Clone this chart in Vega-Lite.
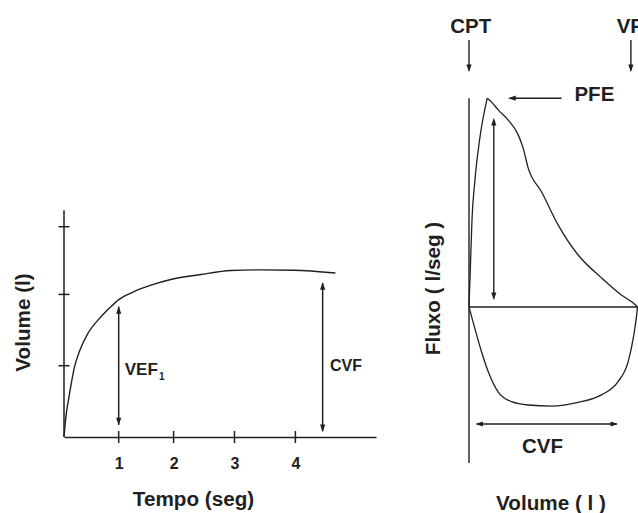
{
  "$schema": "https://vega.github.io/schema/vega-lite/v6.json",
  "background": "white",
  "padding": {"left": 12, "top": 5, "right": 0, "bottom": 0},
  "spacing": 46,
  "config": {
    "view": {"stroke": null},
    "font": "Liberation Sans",
    "axis": {"grid": false, "titleFont": "Liberation Sans", "labelFont": "Liberation Sans", "titleFontWeight": "bold", "labelFontWeight": "bold", "titleColor": "#231f20", "labelColor": "#231f20", "domainColor": "#231f20"}
  },
  "datasets": {
    "curve": [
      {"t": 0, "v": 0}, {"t": 0.04, "v": 0.33}, {"t": 0.075, "v": 0.51}, {"t": 0.125, "v": 0.75},
      {"t": 0.18, "v": 0.98}, {"t": 0.27, "v": 1.21}, {"t": 0.41, "v": 1.45}, {"t": 0.63, "v": 1.68},
      {"t": 0.8, "v": 1.82}, {"t": 0.95, "v": 1.93}, {"t": 1.18, "v": 2.03}, {"t": 1.5, "v": 2.13},
      {"t": 1.84, "v": 2.21}, {"t": 2.36, "v": 2.28}, {"t": 2.88, "v": 2.335}, {"t": 3.4, "v": 2.345},
      {"t": 3.96, "v": 2.34}, {"t": 4.68, "v": 2.3}
    ],
    "leftRules": [
      {"t": 0, "v": 0, "t2": 0, "v2": 3.18},
      {"t": 0.943, "v": 0.17, "t2": 0.943, "v2": 1.83},
      {"t": 4.46, "v": 0.08, "t2": 4.46, "v2": 2.16}
    ],
    "leftXTicks": [{"t": 0.943, "v": 0}, {"t": 1.89, "v": 0}, {"t": 2.94, "v": 0}, {"t": 3.99, "v": 0}],
    "leftYTicks": [{"t": 0, "v": 1}, {"t": 0, "v": 2}, {"t": 0, "v": 2.95}],
    "leftHeads": [
      {"t": 0.943, "v": 1.833, "dir": "up"}, {"t": 0.943, "v": 0.164, "dir": "down"},
      {"t": 4.46, "v": 2.17, "dir": "up"}, {"t": 4.46, "v": 0.07, "dir": "down"}
    ],
    "vefText": [{"t": 1.047, "v": 0.865, "label": "VEF"}],
    "vefSub": [{"t": 1.64, "v": 0.8, "label": "1"}],
    "cvfLeft": [{"t": 4.586, "v": 0.921, "label": "CVF"}],
    "loop": [
      {"seg": "rise", "vol": 0, "flow": 0}, {"seg": "rise", "vol": 0.04, "flow": 1.5},
      {"seg": "rise", "vol": 0.09, "flow": 3.4}, {"seg": "rise", "vol": 0.17, "flow": 4.8},
      {"seg": "rise", "vol": 0.31, "flow": 6.4}, {"seg": "rise", "vol": 0.54, "flow": 8.03},
      {"seg": "fall", "vol": 0.54, "flow": 8.03}, {"seg": "fall", "vol": 0.67, "flow": 7.88},
      {"seg": "fall", "vol": 0.864, "flow": 7.58}, {"seg": "fall", "vol": 1.16, "flow": 7.19},
      {"seg": "fall", "vol": 1.456, "flow": 6.62}, {"seg": "fall", "vol": 1.6, "flow": 6.12},
      {"seg": "fall", "vol": 1.75, "flow": 5.35}, {"seg": "fall", "vol": 2.145, "flow": 4.43},
      {"seg": "fall", "vol": 2.64, "flow": 3.15}, {"seg": "fall", "vol": 3.23, "flow": 2.0},
      {"seg": "fall", "vol": 3.92, "flow": 1.12}, {"seg": "fall", "vol": 4.51, "flow": 0.46},
      {"seg": "fall", "vol": 4.86, "flow": 0.15}, {"seg": "fall", "vol": 4.985, "flow": 0.01},
      {"seg": "insp", "vol": 0, "flow": 0}, {"seg": "insp", "vol": 0.17, "flow": -0.81},
      {"seg": "insp", "vol": 0.37, "flow": -1.72}, {"seg": "insp", "vol": 0.57, "flow": -2.49},
      {"seg": "insp", "vol": 0.86, "flow": -3.26}, {"seg": "insp", "vol": 1.26, "flow": -3.64},
      {"seg": "insp", "vol": 1.75, "flow": -3.77}, {"seg": "insp", "vol": 2.44, "flow": -3.81},
      {"seg": "insp", "vol": 3.23, "flow": -3.67}, {"seg": "insp", "vol": 3.92, "flow": -3.38},
      {"seg": "insp", "vol": 4.41, "flow": -2.87}, {"seg": "insp", "vol": 4.71, "flow": -2.1},
      {"seg": "insp", "vol": 4.86, "flow": -1.2}, {"seg": "insp", "vol": 4.96, "flow": -0.31},
      {"seg": "insp", "vol": 4.985, "flow": 0}
    ],
    "rightRules": [
      {"vol": 0, "flow": -6, "vol2": 0, "flow2": 8.03},
      {"vol": 0, "flow": 0, "vol2": 4.99, "flow2": 0},
      {"vol": 0, "flow": 10.27, "vol2": 0, "flow2": 9.1},
      {"vol": 4.79, "flow": 10.27, "vol2": 4.79, "flow2": 9.1},
      {"vol": 2.737, "flow": 8.03, "vol2": 1.2, "flow2": 8.03},
      {"vol": 0.734, "flow": 7.2, "vol2": 0.734, "flow2": 0.33},
      {"vol": 0.23, "flow": -4.5, "vol2": 4.37, "flow2": -4.5}
    ],
    "rightHeads": [
      {"vol": 0, "flow": 9.04, "dir": "down"}, {"vol": 4.79, "flow": 9.04, "dir": "down"},
      {"vol": 1.16, "flow": 8.03, "dir": "left"},
      {"vol": 0.734, "flow": 7.27, "dir": "up"}, {"vol": 0.734, "flow": 0.27, "dir": "down"},
      {"vol": 0.19, "flow": -4.5, "dir": "left"}, {"vol": 4.41, "flow": -4.5, "dir": "right"}
    ],
    "rightText": [
      {"vol": 0.05, "flow": 10.54, "label": "CPT"},
      {"vol": 3.71, "flow": 7.92, "label": "PFE"},
      {"vol": 2.175, "flow": -5.615, "label": "CVF"}
    ],
    "edgeText": [
      {"vol": 4.79, "flow": 10.54, "label": "VR"}
    ]
  },
  "hconcat": [
    {
      "width": 312,
      "height": 432,
      "encoding": {
        "x": {"field": "t", "type": "quantitative", "scale": {"domain": [0, 5.38], "nice": false, "zero": false},
          "axis": {"values": [0.943, 1.89, 2.94, 3.99], "labelExpr": "round(datum.value)", "ticks": false, "tickSize": 0,
            "domain": true, "domainWidth": 1.5, "labelFontSize": 16, "labelPadding": 18, "labelFlush": false,
            "title": "Tempo (seg)", "titleFontSize": 20.7, "titlePadding": 18.7, "titleX": 129}},
        "y": {"field": "v", "type": "quantitative", "scale": {"domain": [0, 6.06], "nice": false, "zero": false},
          "axis": {"domain": false, "ticks": false, "tickSize": 0, "labels": false, "title": "Volume (l)",
            "titleFontSize": 20.7, "titlePadding": 31, "titleY": 317}}
      },
      "layer": [
        {"data": {"name": "curve"}, "mark": {"type": "line", "interpolate": "monotone", "color": "#231f20", "strokeWidth": 1.4}},
        {"data": {"name": "leftRules"}, "mark": {"type": "rule", "color": "#231f20", "strokeWidth": 1.5},
          "encoding": {"x2": {"field": "t2"}, "y2": {"field": "v2"}}},
        {"data": {"name": "leftXTicks"}, "mark": {"type": "tick", "orient": "vertical", "size": 12, "thickness": 1.5, "color": "#231f20", "opacity": 1}},
        {"data": {"name": "leftYTicks"}, "mark": {"type": "tick", "orient": "horizontal", "size": 11, "thickness": 1.5, "color": "#231f20", "opacity": 1}},
        {"data": {"name": "leftHeads"}, "mark": {"type": "point", "filled": true, "size": 56, "color": "#231f20", "opacity": 1, "strokeWidth": 0},
          "encoding": {"shape": {"field": "dir", "type": "nominal", "legend": null,
            "scale": {"domain": ["up", "down", "left", "right"], "range": ["M-0.7,2L0.7,2L0,0Z", "M-0.7,-2L0.7,-2L0,0Z", "M2,-0.7L2,0.7L0,0Z", "M-2,-0.7L-2,0.7L0,0Z"]}}}},
        {"data": {"name": "vefText"}, "mark": {"type": "text", "align": "left", "baseline": "alphabetic", "fontSize": 17, "fontWeight": "bold", "color": "#231f20"},
          "encoding": {"text": {"field": "label"}}},
        {"data": {"name": "vefSub"}, "mark": {"type": "text", "align": "left", "baseline": "alphabetic", "fontSize": 10, "fontWeight": "bold", "color": "#231f20"},
          "encoding": {"text": {"field": "label"}}},
        {"data": {"name": "cvfLeft"}, "mark": {"type": "text", "align": "left", "baseline": "alphabetic", "fontSize": 16, "fontWeight": "bold", "color": "#231f20"},
          "encoding": {"text": {"field": "label"}}}
      ]
    },
    {
      "width": 170,
      "height": 458,
      "encoding": {
        "x": {"field": "vol", "type": "quantitative", "scale": {"domain": [0, 5.03], "nice": false, "zero": false},
          "axis": {"domain": false, "ticks": false, "tickSize": 0, "labels": false, "title": "Volume ( l )",
            "titleFontSize": 20.7, "titlePadding": 30.6, "titleX": 81.5}},
        "y": {"field": "flow", "type": "quantitative", "scale": {"domain": [-6, 11.615], "nice": false, "zero": false},
          "axis": {"domain": false, "ticks": false, "tickSize": 0, "labels": false, "title": "Fluxo ( l/seg )",
            "titleFontSize": 20.7, "titlePadding": 25.6, "titleY": 283}}
      },
      "layer": [
        {"data": {"name": "loop"}, "mark": {"type": "line", "interpolate": "monotone", "color": "#231f20", "strokeWidth": 1.3},
          "encoding": {"detail": {"field": "seg", "type": "nominal"}}},
        {"data": {"name": "rightRules"}, "mark": {"type": "rule", "color": "#231f20", "strokeWidth": 1.4},
          "encoding": {"x2": {"field": "vol2"}, "y2": {"field": "flow2"}}},
        {"data": {"name": "rightHeads"}, "mark": {"type": "point", "filled": true, "size": 56, "color": "#231f20", "opacity": 1, "strokeWidth": 0},
          "encoding": {"shape": {"field": "dir", "type": "nominal", "legend": null,
            "scale": {"domain": ["up", "down", "left", "right"], "range": ["M-0.7,2L0.7,2L0,0Z", "M-0.7,-2L0.7,-2L0,0Z", "M2,-0.7L2,0.7L0,0Z", "M-2,-0.7L-2,0.7L0,0Z"]}}}},
        {"data": {"name": "rightText"}, "mark": {"type": "text", "align": "center", "baseline": "alphabetic", "fontSize": 20.5, "fontWeight": "bold", "color": "#231f20"},
          "encoding": {"text": {"field": "label"}}},
        {"data": {"name": "edgeText"}, "mark": {"type": "text", "align": "center", "baseline": "alphabetic", "fontSize": 20.5, "fontWeight": "bold", "color": "#231f20", "clip": true},
          "encoding": {"text": {"field": "label"}}}
      ]
    }
  ]
}
